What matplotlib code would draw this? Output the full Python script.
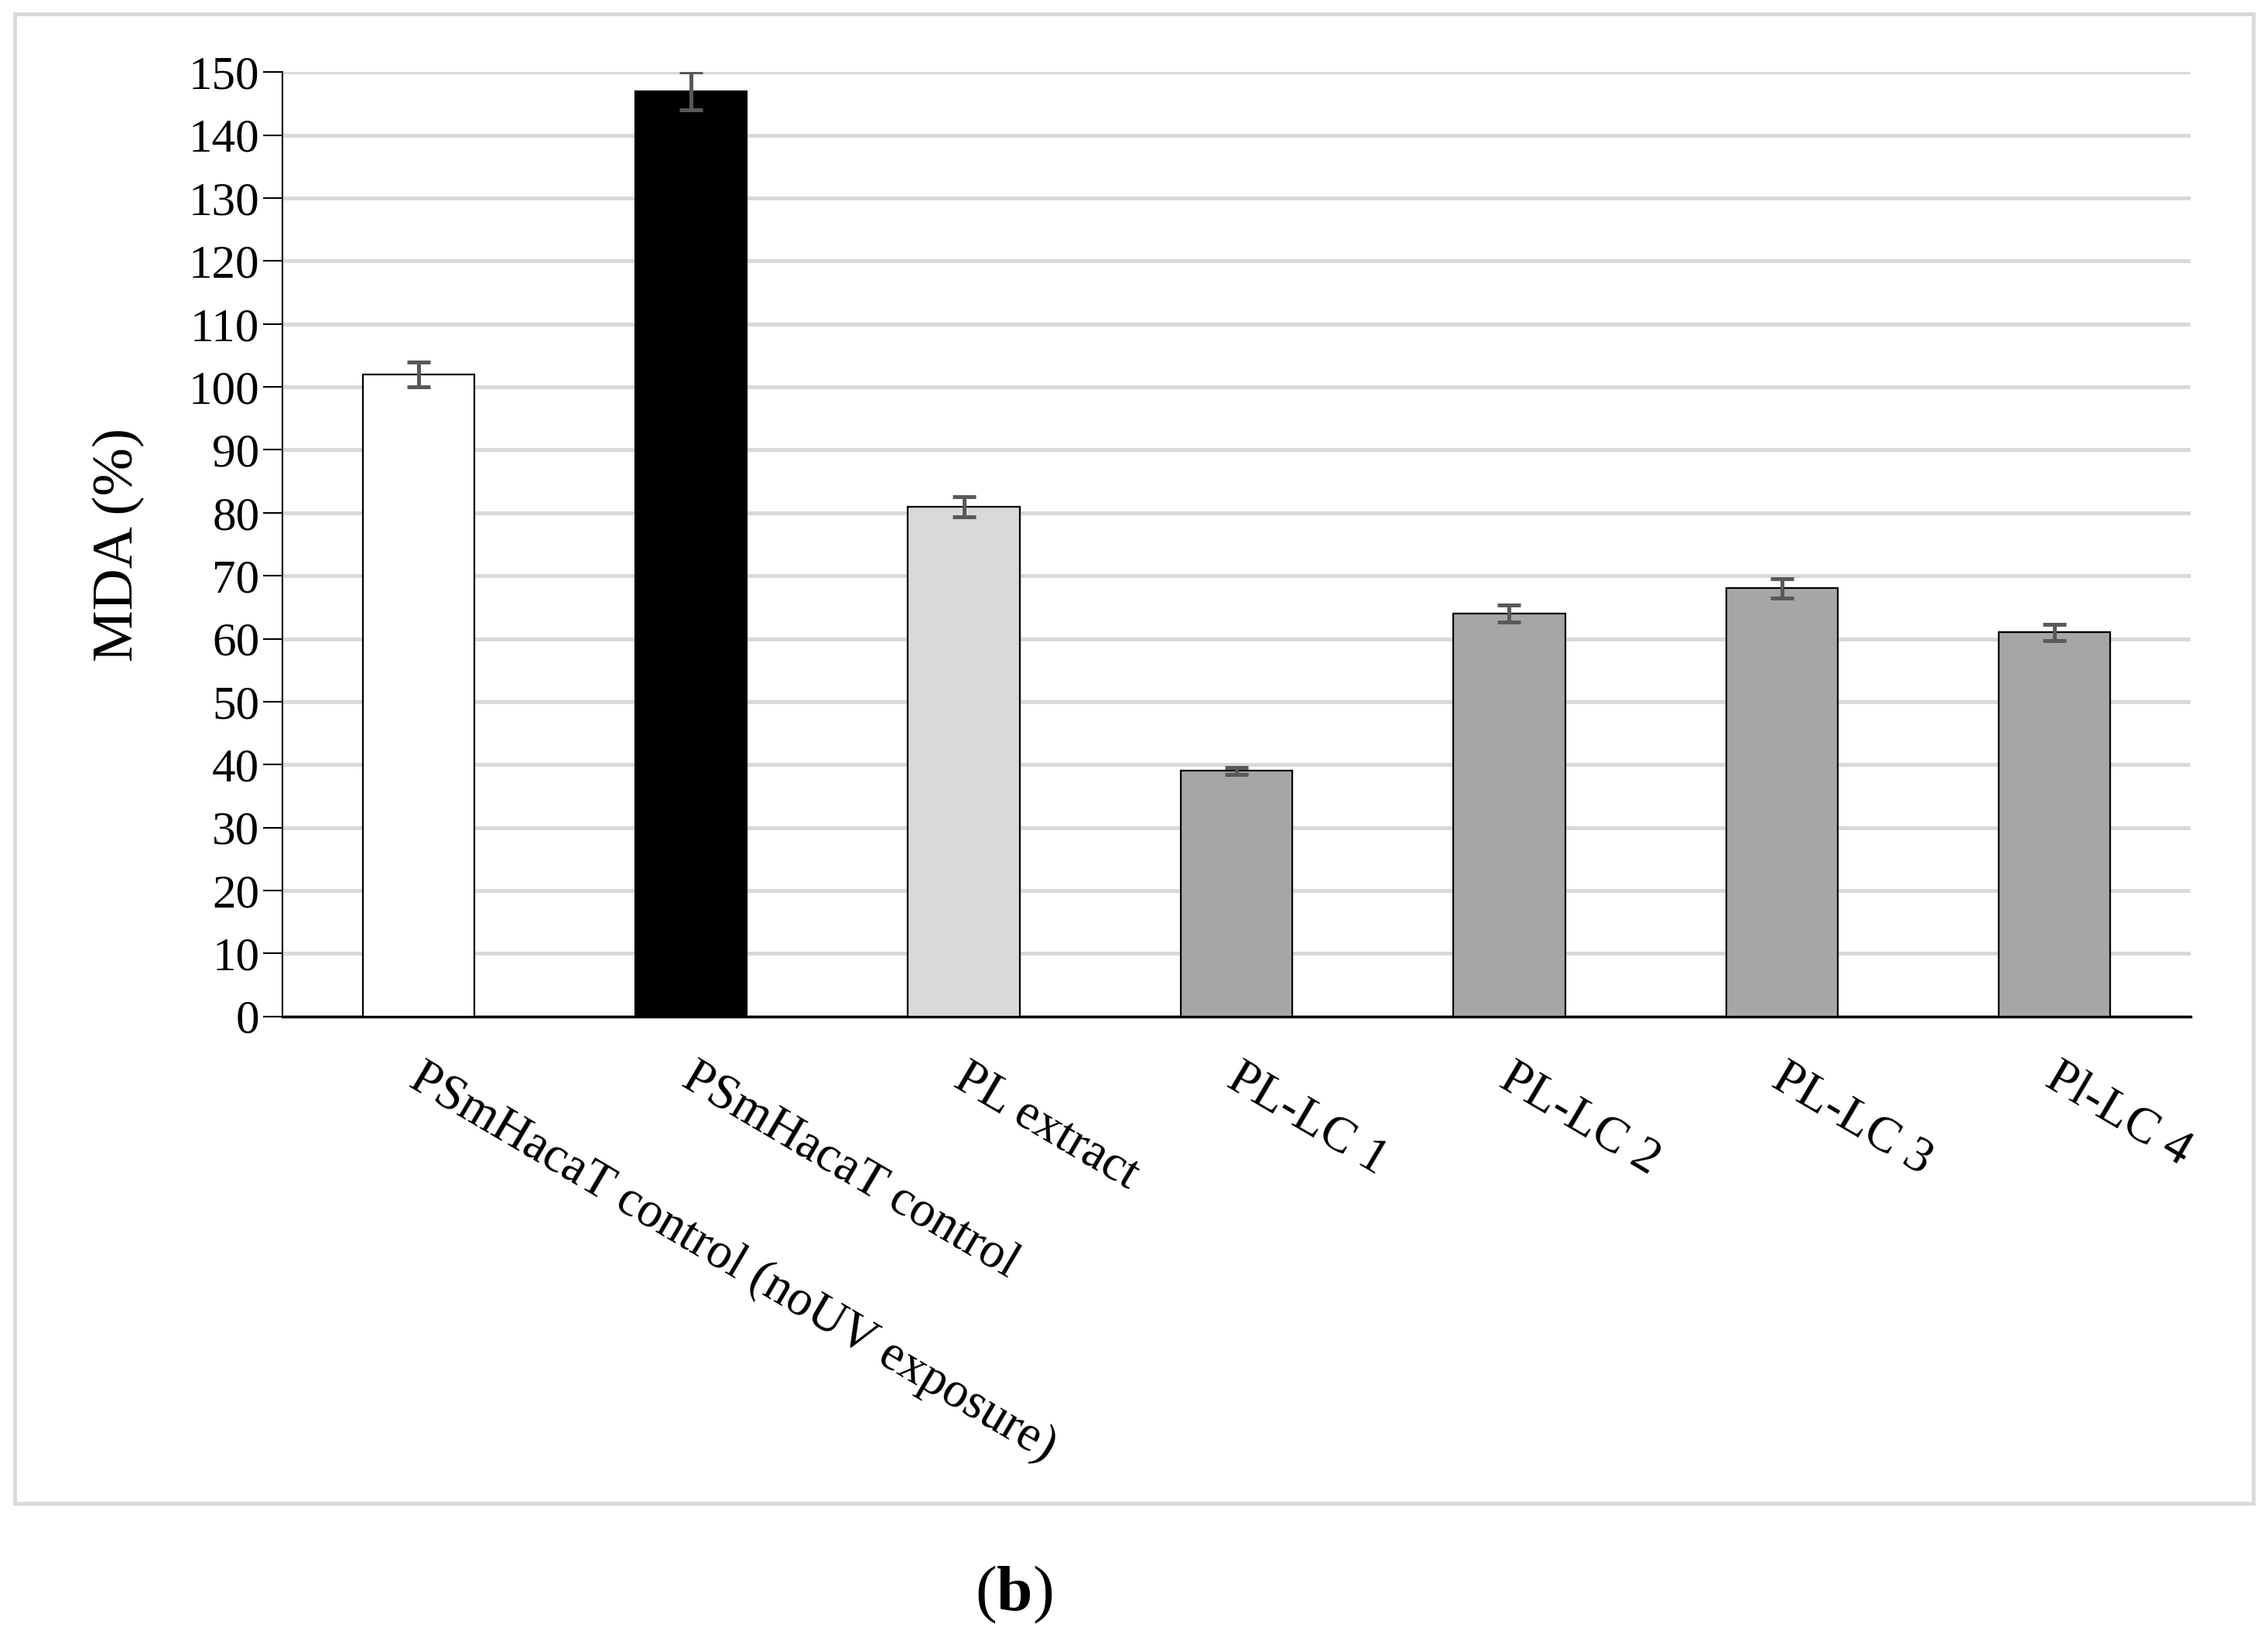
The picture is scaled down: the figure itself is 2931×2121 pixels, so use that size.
import matplotlib
matplotlib.use("Agg")
import matplotlib.pyplot as plt
from matplotlib.patches import Rectangle

plt.rcParams["font.family"] = ["Liberation Serif", "DejaVu Serif"]
plt.rcParams["mathtext.fontset"] = "custom"
plt.rcParams["mathtext.rm"] = "Liberation Serif"
plt.rcParams["mathtext.bf"] = "Liberation Serif:bold"

# data
categories = ["PSmHacaT control (noUV exposure)", "PSmHacaT control",
              "PL extract", "PL-LC 1", "PL-LC 2", "PL-LC 3", "Pl-LC 4"]
mda_values = [102, 147, 81, 39, 64, 68, 61]
mda_errors = [2.0, 3.0, 1.6, 0.6, 1.3, 1.5, 1.3]
bar_colors = ["#ffffff", "#000000", "#d9d9d9", "#a6a6a6",
              "#a6a6a6", "#a6a6a6", "#a6a6a6"]
y_ticks = list(range(0, 151, 10))

fig = plt.figure(figsize=(29.31, 21.21), dpi=100)
fig.patch.set_facecolor("white")

# light grey frame around the chart area
fig.patches.append(Rectangle((0.0064, 0.0837), 0.987, 0.908,
                             transform=fig.transFigure, fill=False,
                             edgecolor="#d9d9d9", linewidth=3.5))

ax = fig.add_axes([0.1244, 0.3806, 0.8416, 0.5754])
x = list(range(len(categories)))
ax.bar(x, mda_values, width=0.41, color=bar_colors, edgecolor="black",
       linewidth=1.6, zorder=3)
ax.errorbar(x, mda_values, yerr=mda_errors, fmt="none", ecolor="#595959",
            elinewidth=3.6, capsize=11, capthick=3.6, zorder=4)

ax.set_xlim(-0.5, len(categories) - 0.5)
ax.set_ylim(0, 150)
ax.set_yticks(y_ticks)
ax.tick_params(axis="y", labelsize=44, length=18, width=1.5, direction="out",
               pad=3)
ax.yaxis.grid(True, color="#d9d9d9", linewidth=3.6, zorder=0)
ax.set_axisbelow(True)

for side in ["top", "right"]:
    ax.spines[side].set_visible(False)
ax.spines["left"].set_linewidth(1.5)
ax.spines["bottom"].set_linewidth(2.5)

ax.set_xticks(x)
ax.set_xticklabels([])
ax.tick_params(axis="x", length=0)
for xi, lab in zip(x, categories):
    ax.annotate(lab, xy=(xi, 0), xycoords=("data", "data"),
                xytext=(8, -50), textcoords="offset pixels",
                rotation=-30.5, rotation_mode="anchor", ha="left", va="top",
                fontsize=46.5)

ax.set_ylabel("MDA (%)", fontsize=54)
ax.yaxis.set_label_coords(-0.072, 0.5)

fig.text(0.447, 0.028, r"$(\mathbf{b})$", ha="center", va="center",
         fontsize=60)

fig.savefig("out.png", dpi=100)
